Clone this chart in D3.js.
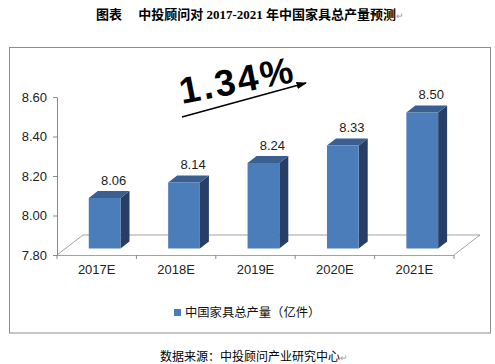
<!DOCTYPE html>
<html><head><meta charset="utf-8">
<script src="https://cdn.jsdelivr.net/npm/d3@7/dist/d3.min.js"></script>
<style>
html,body{margin:0;padding:0;background:#fff;}
svg{display:block;}
</style></head>
<body>
<svg id="c" width="495" height="364"></svg>
<script>
const categories = ["2017E","2018E","2019E","2020E","2021E"];
const values = [8.06, 8.14, 8.24, 8.33, 8.50];
const yTicks = [7.80, 8.00, 8.20, 8.40, 8.60];
const seriesName = "中国家具总产量（亿件）";
const growthLabel = "1.34%";
const titleText = "图表　 中投顾问对 2017-2021 年中国家具总产量预测";
const sourceText = "数据来源：中投顾问产业研究中心";

const svg = d3.select("#c");
const sans = "'Liberation Sans', Arial, sans-serif";
const cjk = "'Noto Sans CJK SC', sans-serif";

// Title
const t = svg.append("text").attr("x", 250).attr("y", 19).attr("text-anchor","middle")
  .attr("font-family", "'Liberation Serif', 'Noto Sans CJK SC', serif")
  .attr("font-weight","bold").attr("font-size",13).attr("fill","#000");
t.append("tspan").text(titleText);
t.append("tspan").attr("fill","#999").attr("font-size",9).attr("font-weight","normal").text("↵");

// Frame
svg.append("rect").attr("x",9.5).attr("y",47.5).attr("width",481).attr("height",285.5)
  .attr("fill","none").attr("stroke","#8c8c8c").attr("stroke-width",1);

// Scales
const x = d3.scaleBand().domain(categories).range([57,454]);
const yAxisScale = d3.scaleLinear().domain([7.8,8.6]).range([255,97]);
const yBar = d3.scaleLinear().domain([7.8,8.6]).range([248.5,93]);
const depth = {dx: 26, dy: -20};
const bdx = 9, bdy = -7;

// Floor
const fl = svg.append("g").attr("stroke","#8a8a8a").attr("stroke-width",0.8).attr("fill","none");
const x0 = x.range()[0], x1 = x.range()[1], yf = yAxisScale(7.8);
fl.append("path").attr("d", `M${x0},${yf}L${x0+depth.dx},${yf+depth.dy}L${x1+depth.dx},${yf+depth.dy}L${x1},${yf}`);

// Y axis
const yAxis = d3.axisLeft(yAxisScale).tickValues(yTicks).tickFormat(d3.format(".2f")).tickSize(4).tickSizeOuter(0).tickPadding(6);
const ga = svg.append("g").attr("transform",`translate(${x0},0)`).call(yAxis);
ga.select(".domain").attr("stroke","#8a8a8a");
ga.selectAll(".tick line").attr("stroke","#8a8a8a");
ga.selectAll("text").attr("font-family",sans).attr("font-size",13).attr("fill","#222");

// X axis line and ticks
svg.append("line").attr("x1",x0).attr("x2",x1).attr("y1",yf+0.5).attr("y2",yf+0.5).attr("stroke","#8a8a8a").attr("stroke-width",0.8);
const bounds = categories.map(c => x(c)).concat([x1]);
svg.append("g").selectAll("line").data(bounds).join("line")
  .attr("x1",d=>d).attr("x2",d=>d).attr("y1",yf).attr("y2",yf+4).attr("stroke","#8a8a8a");
svg.append("g").selectAll("text").data(categories).join("text")
  .attr("x",d=>x(d)+x.bandwidth()/2).attr("y",274).attr("text-anchor","middle")
  .attr("font-family",sans).attr("font-size",13).attr("fill","#222").text(d=>d);

// Bars
const bars = svg.append("g");
categories.forEach((c,i) => {
  const v = values[i];
  const bx = x(c) + x.bandwidth()*0.4;
  const bw = x.bandwidth()*0.4;
  const top = yBar(v), bot = yBar(7.8);
  bars.append("path").attr("d",`M${bx+bw},${top}L${bx+bw+bdx},${top+bdy}L${bx+bw+bdx},${bot+bdy}L${bx+bw},${bot}Z`).attr("fill","#273f66");
  bars.append("path").attr("d",`M${bx},${top}L${bx+bdx},${top+bdy}L${bx+bw+bdx},${top+bdy}L${bx+bw},${top}Z`).attr("fill","#3a5f90");
  bars.append("rect").attr("x",bx).attr("y",top).attr("width",bw).attr("height",bot-top).attr("fill","#4b7dba");
  bars.append("text").attr("x",bx+bw/2+bdx).attr("y",top+bdy-6).attr("text-anchor","middle")
    .attr("font-family",sans).attr("font-size",13).attr("fill","#222").text(v.toFixed(2));
});

// Growth annotation
svg.append("defs").append("marker").attr("id","ah").attr("viewBox","0 0 10 10").attr("refX",9).attr("refY",5)
  .attr("markerWidth",7).attr("markerHeight",7).attr("orient","auto")
  .append("path").attr("d","M0,1.5L10,5L0,8.5Z").attr("fill","#000");
svg.append("line").attr("x1",182).attr("y1",117).attr("x2",306).attr("y2",83)
  .attr("stroke","#000").attr("stroke-width",1.5).attr("marker-end","url(#ah)");
svg.append("text").attr("transform","translate(182,104) rotate(-11)")
  .attr("font-family",sans).attr("font-weight","bold").attr("font-size",37).attr("letter-spacing",2.5)
  .attr("fill","#000").text(growthLabel);

// Legend
svg.append("rect").attr("x",174).attr("y",309).attr("width",7).attr("height",7).attr("fill","#4b7dba");
svg.append("text").attr("x",185).attr("y",316.5).attr("font-family",cjk).attr("font-size",12.3).attr("fill","#111").text(seriesName);

// Source
const s = svg.append("text").attr("x",160).attr("y",361).attr("font-family",cjk).attr("font-size",12).attr("fill","#000");
s.append("tspan").text(sourceText);
s.append("tspan").attr("fill","#999").attr("font-size",9).text("↵");
</script>
</body></html>
